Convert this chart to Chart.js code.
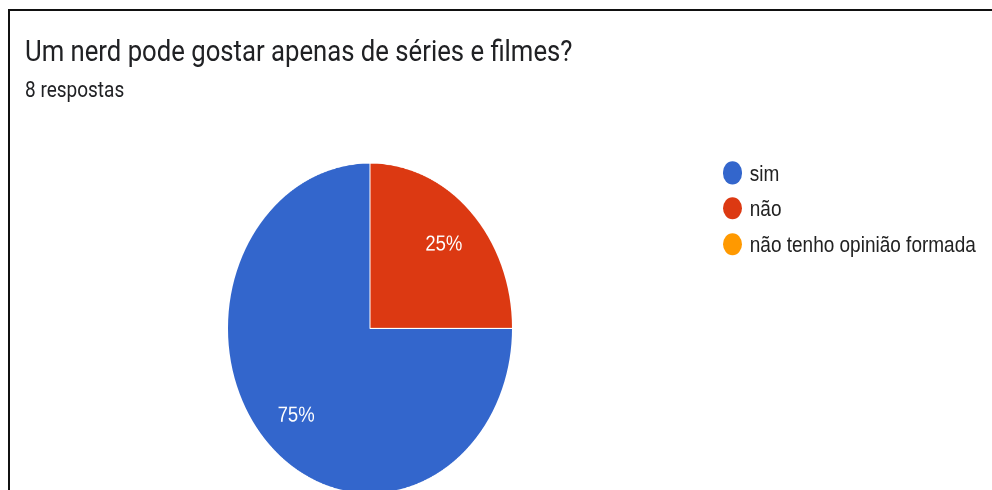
<!DOCTYPE html>
<html lang="pt-BR">
<head>
<meta charset="utf-8">
<title>Um nerd pode gostar apenas de séries e filmes?</title>
<script src="https://cdn.jsdelivr.net/npm/chart.js@4/dist/chart.umd.min.js"></script>
<style>
  html, body { margin: 0; padding: 0; background: #fff; }
  body { width: 992px; height: 490px; overflow: hidden; position: relative; }
  .frame {
    position: absolute; left: 8px; top: 9px; width: 1100px; height: 600px;
    border-left: 2px solid #111; border-top: 2px solid #111;
  }
  /* the card is drawn slightly taller than wide */
  .card {
    position: absolute; left: 0; top: 0; width: 992px; height: 460px;
    transform: scaleY(1.16); transform-origin: 0 0;
  }
  .title {
    position: absolute; left: 25px; top: 31.9px; margin: 0;
    font: 400 25.7px/1 Roboto, "Noto Sans", sans-serif; color: #202124;
    white-space: nowrap;
  }
  .subtitle {
    position: absolute; left: 25px; top: 68px;
    font: 400 19px/1 Roboto, "Noto Sans", sans-serif; color: #202124;
    white-space: nowrap;
  }
  #pie { position: absolute; left: 220px; top: 132.8px; width: 300px; height: 300px; }
  .legend { position: absolute; left: 722.75px; top: 133.8px; margin: 0; padding: 0; list-style: none; }
  .legend li {
    display: flex; align-items: center; height: 30.6px;
    font: 400 19px/1 "Liberation Sans", Arial, sans-serif; color: #222;
    white-space: nowrap;
  }
  .legend .dot { width: 19.5px; height: 19.5px; border-radius: 50%; margin-right: 7.5px; flex: none; }
</style>
</head>
<body>
<div class="frame"></div>
<div class="card">
  <h1 class="title" id="title"></h1>
  <div class="subtitle" id="subtitle"></div>
  <canvas id="pie" width="300" height="300"></canvas>
  <ul class="legend" id="legend"></ul>
</div>
<script>
// Question and answers
const question = 'Um nerd pode gostar apenas de séries e filmes?';
const categories = ['sim', 'não', 'não tenho opinião formada'];
const responses = [6, 2, 0];
const sliceColors = ['#3366cc', '#dc3912', '#ff9900'];

const total = responses.reduce((a, b) => a + b, 0);

document.getElementById('title').textContent = question;
document.getElementById('subtitle').textContent = total + ' respostas';

// Legend built from the categories
const legendEl = document.getElementById('legend');
categories.forEach((name, i) => {
  const li = document.createElement('li');
  const dot = document.createElement('span');
  dot.className = 'dot';
  dot.style.background = sliceColors[i];
  const label = document.createElement('span');
  label.textContent = name;
  li.appendChild(dot);
  li.appendChild(label);
  legendEl.appendChild(li);
});

// Percentage labels placed inside each slice
const percentLabels = {
  id: 'percentLabels',
  afterDatasetsDraw(chart) {
    const ctx = chart.ctx;
    const meta = chart.getDatasetMeta(0);
    const data = chart.data.datasets[0].data;
    const sum = data.reduce((a, b) => a + b, 0);
    ctx.save();
    ctx.fillStyle = '#ffffff';
    const size = 18.5;
    ctx.font = '400 ' + size + 'px "Liberation Sans", Arial, sans-serif';
    ctx.textAlign = 'center';
    ctx.textBaseline = 'alphabetic';
    meta.data.forEach((arc, i) => {
      if (!data[i]) return;
      const p = arc.getProps(['x', 'y', 'startAngle', 'endAngle', 'outerRadius'], true);
      const mid = (p.startAngle + p.endAngle) / 2;
      const r = p.outerRadius * 0.733;
      const x = p.x + Math.cos(mid) * r;
      const y = p.y + Math.sin(mid) * r;
      const text = Math.round(data[i] / sum * 100) + '%';
      ctx.fillText(text, x, y + size * 0.358);
    });
    ctx.restore();
  }
};

new Chart(document.getElementById('pie'), {
  type: 'pie',
  data: {
    labels: categories,
    datasets: [{
      data: responses,
      backgroundColor: sliceColors,
      borderColor: '#ffffff',
      borderWidth: 1
    }]
  },
  options: {
    responsive: false,
    animation: false,
    devicePixelRatio: 2,
    rotation: 90,
    layout: { padding: 7 },
    plugins: {
      legend: { display: false },
      tooltip: { enabled: false },
      title: { display: false }
    }
  },
  plugins: [percentLabels]
});
</script>
</body>
</html>
